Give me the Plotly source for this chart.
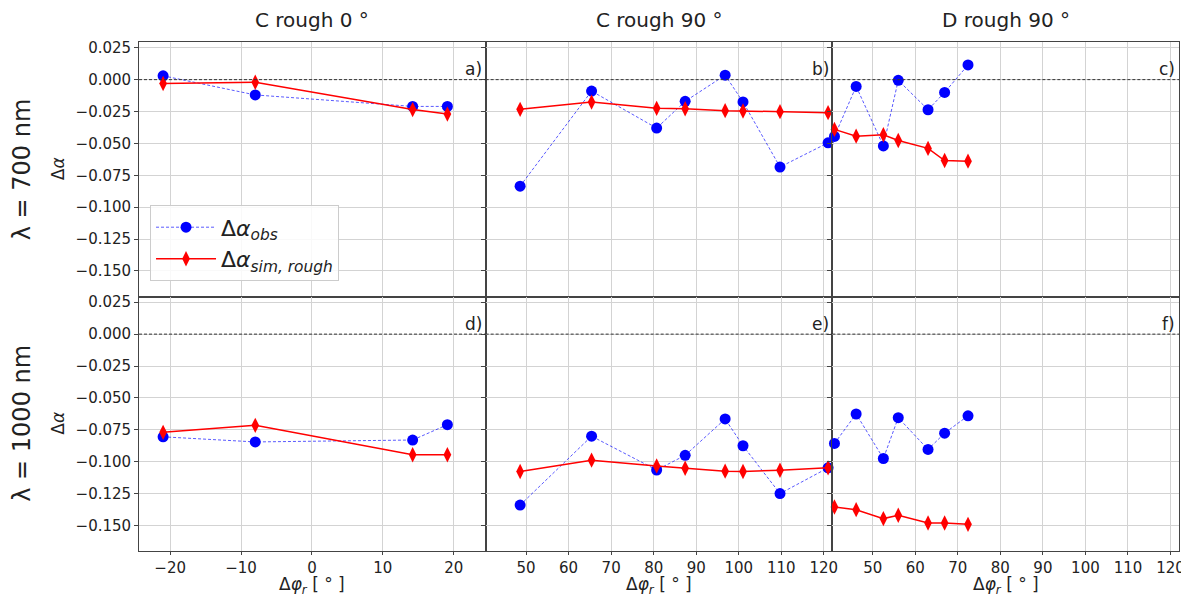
import plotly.graph_objects as go
from plotly.subplots import make_subplots

# ---------------- data ----------------
col_titles = ["C rough 0 °", "C rough 90 °", "D rough 90 °"]
row_titles = ["λ = 700 nm", "λ = 1000 nm"]
panel_labels = ["a)", "b)", "c)", "d)", "e)", "f)"]

a_x = [-21.0, -8.0, 14.2, 19.1]
a_obs_700 = [0.003, -0.012, -0.021, -0.021]
a_sim_700 = [-0.003, -0.002, -0.0235, -0.027]
a_obs_1000 = [-0.0805, -0.0845, -0.083, -0.071]
a_sim_1000 = [-0.077, -0.0715, -0.0945, -0.0945]

b_x = [48.6, 65.4, 80.7, 87.4, 96.8, 101.0, 109.7, 121.0]
b_obs_700 = [-0.0835, -0.009, -0.038, -0.017, 0.0035, -0.0175, -0.0685, -0.0495]
b_sim_700 = [-0.0233, -0.0176, -0.0225, -0.0228, -0.0243, -0.0246, -0.0251, -0.0259]
b_obs_1000 = [-0.134, -0.080, -0.1065, -0.095, -0.0665, -0.0875, -0.125, -0.1048]
b_sim_1000 = [-0.1077, -0.0988, -0.1033, -0.1051, -0.1074, -0.1077, -0.1067, -0.1048]

c_x = [41.0, 46.1, 52.5, 56.0, 63.0, 66.9, 72.4]
c_obs_700 = [-0.0445, -0.0053, -0.052, -0.0005, -0.0236, -0.010, 0.0115]
c_sim_700 = [-0.039, -0.0443, -0.0432, -0.0477, -0.0539, -0.0634, -0.0639]
c_obs_1000 = [-0.0857, -0.0626, -0.0975, -0.0655, -0.0904, -0.0776, -0.064]
c_sim_1000 = [-0.1355, -0.1376, -0.1446, -0.142, -0.1481, -0.1481, -0.1491]

y_ticks = [0.025, 0.0, -0.025, -0.05, -0.075, -0.1, -0.125, -0.15]
a_xticks = [-20, -10, 0, 10, 20]
bc_xticks = [50, 60, 70, 80, 90, 100, 110, 120]

y_range = [-0.170, 0.0295]
a_range = [-24.4, 24.5]
bc_range = [40.5, 122.0]

obs_name = "Δ<i>α</i><sub><i>obs</i></sub>"
sim_name = "Δ<i>α</i><sub><i>sim, rough</i></sub>"
x_title = "Δ<i>φ</i><sub><i>r</i></sub> [ ° ]"

FONT = "DejaVu Sans"
TXT = "#222222"
GRID = "#d3d3d3"
FRAME = "#444444"

fig = make_subplots(rows=2, cols=3, horizontal_spacing=0, vertical_spacing=0)

panels = [
    (1, 1, a_x, a_obs_700, a_sim_700),
    (1, 2, b_x, b_obs_700, b_sim_700),
    (1, 3, c_x, c_obs_700, c_sim_700),
    (2, 1, a_x, a_obs_1000, a_sim_1000),
    (2, 2, b_x, b_obs_1000, b_sim_1000),
    (2, 3, c_x, c_obs_1000, c_sim_1000),
]

for i, (r, c, xs, obs, sim) in enumerate(panels):
    first = i == 0
    fig.add_trace(go.Scatter(
        x=xs, y=obs, mode="lines+markers", name=obs_name, showlegend=first,
        legendrank=1, cliponaxis=False,
        line=dict(color="rgba(0,0,255,0.65)", width=1, dash="3px,2px"),
        marker=dict(color="#0000ff", size=11, symbol="circle"),
    ), row=r, col=c)
    fig.add_trace(go.Scatter(
        x=xs, y=sim, mode="lines+markers", name=sim_name, showlegend=first,
        legendrank=2, cliponaxis=False,
        line=dict(color="#ff0000", width=1.5),
        marker=dict(color="#ff0000", size=11, symbol="diamond-tall"),
    ), row=r, col=c)

for r in (1, 2):
    for c in (1, 2, 3):
        xr = a_range if c == 1 else bc_range
        xt = a_xticks if c == 1 else bc_xticks
        fig.update_xaxes(
            range=xr, tickvals=xt, showticklabels=(r == 2), automargin=False,
            showgrid=True, gridcolor=GRID, gridwidth=1, zeroline=False,
            showline=True, linecolor=FRAME, linewidth=0.8, mirror=True,
            ticks="outside", ticklen=3, tickcolor=FRAME,
            tickfont=dict(family=FONT, size=15, color=TXT),
            row=r, col=c)
        fig.update_yaxes(
            range=y_range, tickvals=y_ticks, tickformat=".3f",
            showticklabels=(c == 1), automargin=False,
            showgrid=True, gridcolor=GRID, gridwidth=1, zeroline=False,
            showline=True, linecolor=FRAME, linewidth=0.8, mirror=True,
            ticks="outside", ticklen=4, tickcolor=FRAME,
            tickfont=dict(family=FONT, size=15, color=TXT),
            row=r, col=c)

# dashed zero lines and panel letters
axis_names = ["", "2", "3", "4", "5", "6"]
for k, an in enumerate(axis_names):
    fig.add_shape(type="line", xref=f"x{an} domain", yref=f"y{an}",
                  x0=0, x1=1, y0=0, y1=0,
                  line=dict(color="#333333", width=1, dash="3px,2px"))
    fig.add_annotation(text=panel_labels[k], xref=f"x{an} domain", yref=f"y{an} domain",
                       x=0.995, y=0.893, xanchor="right", yanchor="middle",
                       showarrow=False, font=dict(family=FONT, size=17, color=TXT))

# column titles and x-axis titles
col_centers = [1 / 6, 0.5, 5 / 6]
for t, xc in zip(col_titles, col_centers):
    fig.add_annotation(text=t, xref="paper", yref="paper", x=xc, y=1,
                       xanchor="center", yanchor="middle", yshift=22,
                       showarrow=False, font=dict(family=FONT, size=20, color=TXT))
    fig.add_annotation(text=x_title, xref="paper", yref="paper", x=xc, y=0,
                       xanchor="center", yanchor="middle", yshift=-34,
                       showarrow=False, font=dict(family=FONT, size=17, color=TXT))

# row titles and y labels
for t, yc in zip(row_titles, [0.75, 0.25]):
    fig.add_annotation(text=t, xref="paper", yref="paper", x=0, y=yc,
                       xanchor="center", yanchor="middle", xshift=-117, textangle=-90,
                       showarrow=False, font=dict(family=FONT, size=24, color=TXT))
    fig.add_annotation(text="Δ<i>α</i>", xref="paper", yref="paper", x=0, y=yc,
                       xanchor="center", yanchor="middle", xshift=-81, textangle=-90,
                       showarrow=False, font=dict(family=FONT, size=17, color=TXT))

# the page body has an 8px margin, so the figure is made 8px smaller on each
# leading side to land the plotting area where the reference has it
fig.update_layout(
    width=1181, height=591,
    margin=dict(l=131, r=10, t=34, b=48, autoexpand=False),
    paper_bgcolor="white", plot_bgcolor="white",
    font=dict(family=FONT, color=TXT),
    legend=dict(x=0.0106, y=0.679, xanchor="left", yanchor="top",
                bgcolor="rgba(255,255,255,0.85)", bordercolor="#cccccc", borderwidth=1,
                font=dict(family=FONT, size=22, color=TXT), itemwidth=60,
                tracegroupgap=2),
)

fig.write_html("out.html")
